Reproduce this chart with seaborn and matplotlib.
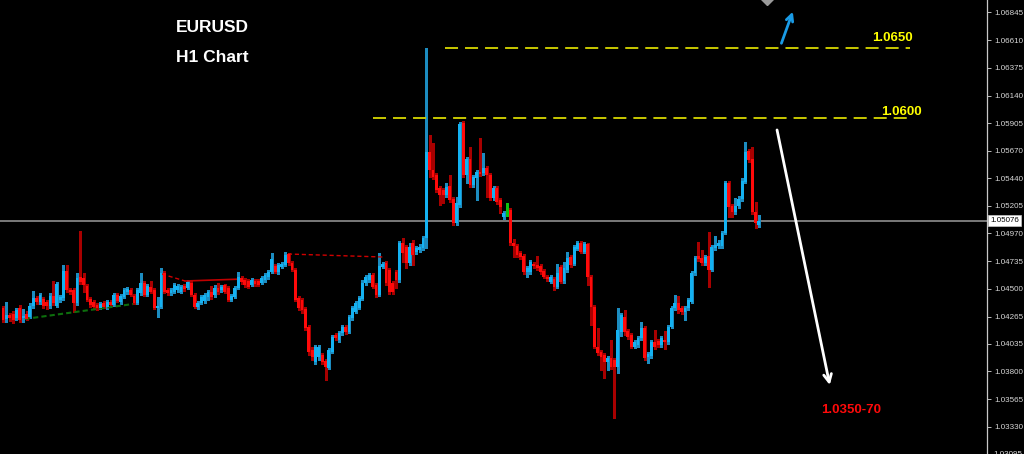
import numpy as np
import pandas as pd
import matplotlib
matplotlib.use("Agg")
import matplotlib.pyplot as plt
import matplotlib.transforms as mtrans
import seaborn as sns

# ---------------- data (EURUSD H1 candles) ----------------
opens = [
    1.04338, 1.04245, 1.04279, 1.04287, 1.04253, 1.04338, 1.04253, 1.04287, 1.04262, 1.04355,
    1.04423, 1.04389, 1.04414, 1.04389, 1.04355, 1.04440, 1.04355, 1.04406, 1.04423, 1.04652,
    1.04491, 1.04491, 1.04381, 1.04601, 1.04593, 1.04525, 1.04414, 1.04389, 1.04364, 1.04338,
    1.04381, 1.04347, 1.04389, 1.04364, 1.04448, 1.04389, 1.04431, 1.04474, 1.04491, 1.04440,
    1.04381, 1.04465, 1.04550, 1.04448, 1.04516, 1.04491, 1.04338, 1.04347, 1.04635, 1.04491,
    1.04465, 1.04474, 1.04491, 1.04474, 1.04525, 1.04508, 1.04550, 1.04448, 1.04347, 1.04381,
    1.04397, 1.04431, 1.04474, 1.04448, 1.04508, 1.04491, 1.04533, 1.04508, 1.04406, 1.04431,
    1.04508, 1.04593, 1.04576, 1.04567, 1.04533, 1.04567, 1.04567, 1.04550, 1.04576, 1.04601,
    1.04643, 1.04694, 1.04643, 1.04686, 1.04703, 1.04796, 1.04720, 1.04660, 1.04423, 1.04406,
    1.04330, 1.04177, 1.03982, 1.03880, 1.03923, 1.03940, 1.03889, 1.03829, 1.03965, 1.04109,
    1.04067, 1.04126, 1.04177, 1.04135, 1.04253, 1.04304, 1.04338, 1.04414, 1.04550, 1.04576,
    1.04618, 1.04533, 1.04448, 1.04686, 1.04720, 1.04660, 1.04550, 1.04643, 1.04576, 1.04889,
    1.04855, 1.04720, 1.04889, 1.04813, 1.04830, 1.04847, 1.04932, 1.05661, 1.05508, 1.05466,
    1.05356, 1.05339, 1.05296, 1.05373, 1.05263, 1.05059, 1.05212, 1.05907, 1.05466, 1.05602,
    1.05381, 1.05440, 1.05491, 1.05483, 1.05525, 1.05466, 1.05271, 1.05356, 1.05254, 1.05110,
    1.05148, 1.05169, 1.04889, 1.04864, 1.04804, 1.04779, 1.04643, 1.04643, 1.04711, 1.04703,
    1.04694, 1.04652, 1.04601, 1.04559, 1.04584, 1.04516, 1.04686, 1.04567, 1.04660, 1.04770,
    1.04711, 1.04838, 1.04889, 1.04813, 1.04881, 1.04601, 1.04347, 1.04007, 1.03965, 1.03940,
    1.03880, 1.03914, 1.03897, 1.03838, 1.04135, 1.04262, 1.04143, 1.04109, 1.04007, 1.04024,
    1.04084, 1.04168, 1.03923, 1.03931, 1.04050, 1.04058, 1.04024, 1.04067, 1.04050, 1.04177,
    1.04338, 1.04381, 1.04338, 1.04304, 1.04338, 1.04389, 1.04635, 1.04779, 1.04762, 1.04720,
    1.04779, 1.04660, 1.04847, 1.04864, 1.04864, 1.04974, 1.05398, 1.05203, 1.05152, 1.05203,
    1.05263, 1.05407, 1.05670, 1.05602, 1.05152, 1.05042,
]
highs = [
    1.04355, 1.04389, 1.04296, 1.04313, 1.04338, 1.04364, 1.04330, 1.04313, 1.04381, 1.04482,
    1.04440, 1.04465, 1.04431, 1.04406, 1.04465, 1.04567, 1.04559, 1.04448, 1.04703, 1.04703,
    1.04508, 1.04508, 1.04635, 1.04991, 1.04635, 1.04542, 1.04431, 1.04406, 1.04381, 1.04389,
    1.04397, 1.04406, 1.04406, 1.04465, 1.04465, 1.04457, 1.04508, 1.04516, 1.04508, 1.04457,
    1.04508, 1.04635, 1.04567, 1.04542, 1.04567, 1.04508, 1.04431, 1.04677, 1.04652, 1.04508,
    1.04508, 1.04550, 1.04542, 1.04533, 1.04542, 1.04576, 1.04567, 1.04465, 1.04397, 1.04448,
    1.04465, 1.04491, 1.04525, 1.04533, 1.04550, 1.04533, 1.04542, 1.04525, 1.04457, 1.04525,
    1.04643, 1.04609, 1.04593, 1.04584, 1.04593, 1.04584, 1.04584, 1.04609, 1.04635, 1.04660,
    1.04804, 1.04711, 1.04720, 1.04728, 1.04813, 1.04804, 1.04737, 1.04677, 1.04440, 1.04423,
    1.04347, 1.04194, 1.04007, 1.04024, 1.04024, 1.03957, 1.03906, 1.03999, 1.04109, 1.04126,
    1.04143, 1.04194, 1.04194, 1.04279, 1.04355, 1.04397, 1.04440, 1.04576, 1.04618, 1.04635,
    1.04635, 1.04550, 1.04804, 1.04728, 1.04737, 1.04677, 1.04567, 1.04660, 1.04906, 1.04932,
    1.04872, 1.04889, 1.04915, 1.04864, 1.04881, 1.04949, 1.06543, 1.05805, 1.05737, 1.05483,
    1.05373, 1.05356, 1.05398, 1.05466, 1.05279, 1.05279, 1.05916, 1.05924, 1.05619, 1.05703,
    1.05466, 1.05508, 1.05780, 1.05653, 1.05542, 1.05483, 1.05373, 1.05373, 1.05271, 1.05161,
    1.05229, 1.05186, 1.04923, 1.04881, 1.04821, 1.04796, 1.04694, 1.04745, 1.04728, 1.04779,
    1.04711, 1.04669, 1.04618, 1.04618, 1.04601, 1.04711, 1.04703, 1.04728, 1.04813, 1.04787,
    1.04872, 1.04906, 1.04906, 1.04898, 1.04889, 1.04618, 1.04364, 1.04168, 1.03982, 1.03957,
    1.03931, 1.04067, 1.03914, 1.04338, 1.04296, 1.04321, 1.04160, 1.04126, 1.04067, 1.04101,
    1.04219, 1.04185, 1.03965, 1.04067, 1.04152, 1.04075, 1.04101, 1.04143, 1.04194, 1.04355,
    1.04448, 1.04440, 1.04355, 1.04355, 1.04423, 1.04652, 1.04779, 1.04898, 1.04830, 1.04787,
    1.04983, 1.04872, 1.04949, 1.04915, 1.04991, 1.05415, 1.05415, 1.05220, 1.05271, 1.05288,
    1.05440, 1.05746, 1.05686, 1.05703, 1.05237, 1.05127,
]
lows = [
    1.04219, 1.04219, 1.04228, 1.04211, 1.04236, 1.04219, 1.04219, 1.04236, 1.04253, 1.04338,
    1.04372, 1.04372, 1.04338, 1.04330, 1.04338, 1.04364, 1.04347, 1.04389, 1.04406, 1.04474,
    1.04457, 1.04304, 1.04364, 1.04542, 1.04474, 1.04397, 1.04347, 1.04330, 1.04321, 1.04330,
    1.04338, 1.04330, 1.04355, 1.04355, 1.04389, 1.04372, 1.04423, 1.04457, 1.04440, 1.04372,
    1.04372, 1.04448, 1.04440, 1.04440, 1.04465, 1.04330, 1.04262, 1.04338, 1.04465, 1.04448,
    1.04448, 1.04465, 1.04474, 1.04465, 1.04482, 1.04499, 1.04440, 1.04338, 1.04330, 1.04372,
    1.04381, 1.04406, 1.04414, 1.04431, 1.04457, 1.04474, 1.04465, 1.04397, 1.04397, 1.04423,
    1.04499, 1.04542, 1.04516, 1.04508, 1.04525, 1.04525, 1.04525, 1.04542, 1.04559, 1.04584,
    1.04635, 1.04635, 1.04626, 1.04677, 1.04694, 1.04703, 1.04652, 1.04397, 1.04321, 1.04296,
    1.04152, 1.03940, 1.03897, 1.03863, 1.03897, 1.03863, 1.03728, 1.03821, 1.03957, 1.04067,
    1.04050, 1.04109, 1.04118, 1.04126, 1.04236, 1.04296, 1.04330, 1.04406, 1.04533, 1.04559,
    1.04508, 1.04431, 1.04440, 1.04677, 1.04533, 1.04457, 1.04457, 1.04508, 1.04559, 1.04728,
    1.04677, 1.04703, 1.04703, 1.04796, 1.04813, 1.04830, 1.04847, 1.05449, 1.05432, 1.05322,
    1.05212, 1.05229, 1.05279, 1.05237, 1.05042, 1.05042, 1.05195, 1.05449, 1.05398, 1.05364,
    1.05364, 1.05254, 1.05457, 1.05466, 1.05279, 1.05254, 1.05254, 1.05220, 1.05144, 1.05093,
    1.05118, 1.04872, 1.04770, 1.04770, 1.04754, 1.04626, 1.04601, 1.04626, 1.04677, 1.04660,
    1.04626, 1.04593, 1.04567, 1.04550, 1.04491, 1.04508, 1.04550, 1.04550, 1.04643, 1.04686,
    1.04703, 1.04830, 1.04804, 1.04804, 1.04533, 1.04194, 1.03999, 1.03940, 1.03812, 1.03745,
    1.03812, 1.03821, 1.03405, 1.03787, 1.04101, 1.04109, 1.04075, 1.03999, 1.03999, 1.04007,
    1.04067, 1.03897, 1.03872, 1.03914, 1.03990, 1.04007, 1.04007, 1.03990, 1.04033, 1.04168,
    1.04321, 1.04296, 1.04287, 1.04236, 1.04321, 1.04381, 1.04618, 1.04737, 1.04703, 1.04703,
    1.04516, 1.04652, 1.04830, 1.04847, 1.04847, 1.04966, 1.05110, 1.05110, 1.05135, 1.05186,
    1.05246, 1.05398, 1.05576, 1.05135, 1.05017, 1.05025,
]
closes = [
    1.04236, 1.04279, 1.04253, 1.04236, 1.04321, 1.04236, 1.04270, 1.04245, 1.04355, 1.04423,
    1.04389, 1.04448, 1.04355, 1.04355, 1.04440, 1.04381, 1.04542, 1.04431, 1.04652, 1.04491,
    1.04474, 1.04381, 1.04593, 1.04559, 1.04533, 1.04406, 1.04364, 1.04347, 1.04338, 1.04372,
    1.04347, 1.04389, 1.04364, 1.04448, 1.04397, 1.04440, 1.04491, 1.04499, 1.04448, 1.04381,
    1.04491, 1.04550, 1.04448, 1.04525, 1.04474, 1.04338, 1.04355, 1.04635, 1.04474, 1.04465,
    1.04491, 1.04533, 1.04525, 1.04516, 1.04499, 1.04559, 1.04448, 1.04347, 1.04381, 1.04431,
    1.04448, 1.04474, 1.04431, 1.04508, 1.04474, 1.04516, 1.04474, 1.04406, 1.04440, 1.04508,
    1.04601, 1.04559, 1.04533, 1.04516, 1.04576, 1.04542, 1.04533, 1.04593, 1.04618, 1.04643,
    1.04754, 1.04643, 1.04703, 1.04711, 1.04787, 1.04720, 1.04660, 1.04406, 1.04338, 1.04321,
    1.04168, 1.03965, 1.03923, 1.04007, 1.04007, 1.03880, 1.03838, 1.03982, 1.04092, 1.04084,
    1.04126, 1.04177, 1.04135, 1.04262, 1.04338, 1.04381, 1.04423, 1.04550, 1.04601, 1.04618,
    1.04516, 1.04448, 1.04694, 1.04711, 1.04550, 1.04474, 1.04474, 1.04576, 1.04889, 1.04804,
    1.04720, 1.04855, 1.04787, 1.04847, 1.04855, 1.04932, 1.05661, 1.05508, 1.05449, 1.05339,
    1.05296, 1.05296, 1.05364, 1.05254, 1.05059, 1.05229, 1.05898, 1.05466, 1.05602, 1.05381,
    1.05449, 1.05491, 1.05474, 1.05525, 1.05466, 1.05271, 1.05356, 1.05237, 1.05195, 1.05144,
    1.05148, 1.04889, 1.04864, 1.04787, 1.04770, 1.04643, 1.04677, 1.04728, 1.04694, 1.04677,
    1.04643, 1.04601, 1.04584, 1.04601, 1.04516, 1.04635, 1.04559, 1.04677, 1.04762, 1.04703,
    1.04855, 1.04889, 1.04813, 1.04881, 1.04601, 1.04347, 1.04007, 1.03957, 1.03923, 1.03880,
    1.03914, 1.03838, 1.03838, 1.04152, 1.04279, 1.04135, 1.04092, 1.04007, 1.04050, 1.04084,
    1.04168, 1.03914, 1.03948, 1.04050, 1.04007, 1.04024, 1.04084, 1.04050, 1.04177, 1.04338,
    1.04381, 1.04321, 1.04304, 1.04338, 1.04406, 1.04635, 1.04762, 1.04754, 1.04720, 1.04770,
    1.04660, 1.04855, 1.04872, 1.04889, 1.04974, 1.05398, 1.05195, 1.05152, 1.05203, 1.05263,
    1.05415, 1.05661, 1.05593, 1.05152, 1.05059, 1.05076,
]

price_ticks = [1.06845, 1.06610, 1.06375, 1.06140, 1.05905, 1.05670, 1.05440, 1.05205,
               1.04970, 1.04735, 1.04500, 1.04265, 1.04035, 1.03800, 1.03565, 1.03330]
cut_tick = 1.03095
current_price = 1.05076

level_labels = ["1.0650", "1.0600"]
level_prices = [1.06545, 1.05950]
level_start = [131.5, 110.1]
level_end = [270.0, 270.5]

title_lines = ["EURUSD", "H1 Chart"]
target_label = "1.0350-70"

green_trend_x = [6.5, 38.7]
green_trend_y = [1.04245, 1.04372]
red_dash1_x = [47.3, 54.2]
red_dash1_y = [1.04626, 1.04567]
red_solid_x = [54.2, 71.4]
red_solid_y = [1.04567, 1.04584]
red_dash2_x = [84.8, 113.7]
red_dash2_y = [1.04796, 1.04770]

blue_arrow = [(231.7, 1.06583), (235.1, 1.06851)]   # tail, head
white_arrow = [(230.4, 1.05848), (246.1, 1.03685)]  # tail, head
marker_pos = (227.4, 1.06958)

# ---------------- styling ----------------
sns.set_theme(style="dark", rc={"axes.facecolor": "black", "figure.facecolor": "black",
                                "axes.grid": False})
plt.rcParams['font.family'] = ['Liberation Sans', 'DejaVu Sans']

BLUE = "#14b2f2"
BLUE_W = "#1c8cc0"
RED = "#ff0a0a"
RED_W = "#a80000"
GREEN = "#10c010"

df = pd.DataFrame({"o": opens, "h": highs, "l": lows, "c": closes})
df["i"] = np.arange(len(df))
diff = df["c"] - df["o"]
df["body_col"] = np.where(diff > 0, BLUE, np.where(diff < 0, RED, GREEN))
df["wick_col"] = np.where(diff > 0, BLUE_W, np.where(diff < 0, RED_W, GREEN))

fig = plt.figure(figsize=(10.24, 4.54), dpi=100, facecolor="black")
ax = fig.add_axes([0, 0, 987 / 1024, 1])
ax.set_facecolor("black")

ax.set_xlim(-0.9, 292.9)
ax.set_ylim(1.03100, 1.06950)

# current price line
ax.axhline(current_price, color="#7a7a7a", lw=1.4, zorder=1)

# wicks
ax.vlines(df["i"], df["l"], df["h"], colors=df["wick_col"], lw=0.95, zorder=2,
          antialiased=False)
# bodies
min_h = 0.00009
body_h = np.maximum((df["c"] - df["o"]).abs(), min_h)
body_b = np.minimum(df["o"], df["c"]) - np.where((df["c"] - df["o"]).abs() < min_h, min_h / 2, 0)
ax.bar(df["i"], body_h, bottom=body_b, width=0.84, color=df["body_col"], linewidth=0,
       zorder=3, antialiased=False)

# trend lines
sns.lineplot(x=green_trend_x, y=green_trend_y, ax=ax, color="#0d6e0d", lw=1.5,
             linestyle=(0, (2.5, 1.5)), estimator=None, sort=False, zorder=2)
sns.lineplot(x=red_dash1_x, y=red_dash1_y, ax=ax, color="#d00000", lw=1.0,
             linestyle=(0, (3, 2)), estimator=None, sort=False, zorder=2)
sns.lineplot(x=red_solid_x, y=red_solid_y, ax=ax, color="#c00000", lw=1.2,
             estimator=None, sort=False, zorder=2)
sns.lineplot(x=red_dash2_x, y=red_dash2_y, ax=ax, color="#d00000", lw=1.0,
             linestyle=(0, (3, 2)), estimator=None, sort=False, zorder=2)

# yellow levels
for lab, p, x0, x1 in zip(level_labels, level_prices, level_start, level_end):
    ax.hlines(p, x0, x1, colors="#c8c800", lw=1.4, linestyles=(0, (6.7, 3.6)), zorder=2)
ax.text(892 / 987, 1 - 38 / 454, level_labels[0], transform=ax.transAxes, color="#ffff00",
        fontsize=9.5, fontweight="bold", ha="center", va="center")
ax.text(901 / 987, 1 - 112 / 454, level_labels[1], transform=ax.transAxes, color="#ffff00",
        fontsize=9.5, fontweight="bold", ha="center", va="center")

# titles
ax.text(212 / 987, 1 - 28 / 454, title_lines[0], transform=ax.transAxes, color="white",
        fontsize=12.5, fontweight="bold", ha="center", va="center")
ax.text(212 / 987, 1 - 57 / 454, title_lines[1], transform=ax.transAxes, color="white",
        fontsize=12.5, fontweight="bold", ha="center", va="center")
ax.text(851 / 987, 1 - 410 / 454, target_label, transform=ax.transAxes, color="#ff0a0a",
        fontsize=9.5, fontweight="bold", ha="center", va="center")

# arrows
ax.annotate("", xy=blue_arrow[1], xytext=blue_arrow[0],
            arrowprops=dict(arrowstyle="->", color="#1a9be6", lw=2.0, mutation_scale=12,
                            shrinkA=0, shrinkB=0))
ax.annotate("", xy=white_arrow[1], xytext=white_arrow[0],
            arrowprops=dict(arrowstyle="->", color="white", lw=2.0, mutation_scale=14,
                            shrinkA=0, shrinkB=0))
ax.plot([marker_pos[0]], [marker_pos[1]], marker="D", ms=6, color="#9a9a9a",
        clip_on=False, zorder=5)

# right price axis
ax.yaxis.tick_right()
ax.set_yticks(price_ticks)
ax.set_yticklabels([f"{t:.5f}" for t in price_ticks])
ax.tick_params(axis="y", colors="#d8d8d8", labelsize=5.8, length=3, width=0.6, pad=2,
               right=True, left=False)
ax.tick_params(axis="x", bottom=False, labelbottom=False)
for s in ["top", "left", "bottom"]:
    ax.spines[s].set_visible(False)
ax.spines["right"].set_color("#c8c8c8")
ax.spines["right"].set_linewidth(0.9)

trans = mtrans.blended_transform_factory(ax.transAxes, ax.transData)
ax.text(1.0 + 6 / 987, cut_tick, f"{cut_tick:.5f}", transform=trans, color="#d8d8d8",
        fontsize=5.8, ha="left", va="center", clip_on=False)
ax.text(1.0 + 3 / 987, current_price, f"{current_price:.5f}", transform=trans, color="black",
        fontsize=5.8, ha="left", va="center", clip_on=False,
        bbox=dict(boxstyle="square,pad=0.25", fc="white", ec="#c8c8c8", lw=0.5))

fig.savefig("out.png", dpi=100, facecolor="black")
